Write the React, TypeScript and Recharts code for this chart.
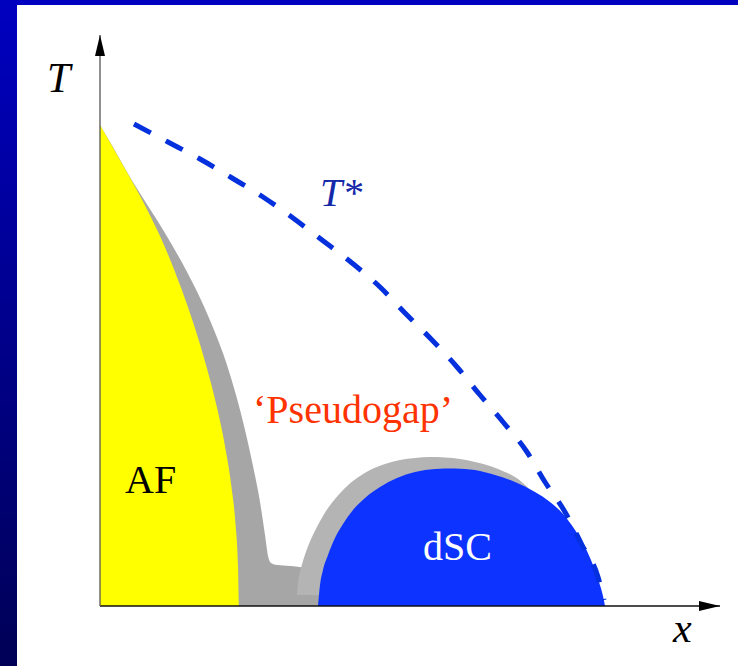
import React from 'react';
import {
  ComposedChart,
  Area,
  Line,
  XAxis,
  YAxis,
  ReferenceDot,
  ReferenceLine,
} from 'recharts';

// doping x and temperature T
const afX = [0, 0.0114, 0.0224, 0.032, 0.04, 0.047, 0.053, 0.0582, 0.0624, 0.0656, 0.0678, 0.069, 0.0694];
const afT = [481, 441, 401, 361, 321, 281, 241, 201, 161, 121, 81, 41, 0];

const pgX = [0, 0.0065, 0.0135, 0.0205, 0.0285, 0.036, 0.043, 0.0505, 0.057, 0.063, 0.068, 0.0725, 0.0765, 0.08, 0.0825, 0.084, 0.0855, 0.0885, 0.095, 0.1025, 0.109, 0.114, 0.117];
const pgT = [481, 459, 434, 411, 386, 361, 336, 306, 276, 244, 211, 176, 140, 104, 71, 50, 43, 41, 40, 38, 33, 24, 0];

const fluctX = [0.0985, 0.099, 0.1, 0.1015, 0.1035, 0.106, 0.109, 0.113, 0.1175, 0.1225, 0.1285, 0.135, 0.1425, 0.15, 0.1575, 0.165, 0.1725, 0.18, 0.1875, 0.195, 0.2025, 0.2075, 0.215, 0.2225, 0.2275, 0.23];
const fluctT = [11, 23, 34, 45, 57, 69, 81, 95, 107, 118, 128, 136, 142, 146, 148, 149, 148.5, 147, 144, 140, 134, 129, 116, 96, 66, 11];

const scX = [0.109, 0.11, 0.1115, 0.114, 0.1175, 0.1215, 0.1265, 0.1325, 0.14, 0.1485, 0.1575, 0.1675, 0.1775, 0.1875, 0.1975, 0.2075, 0.2175, 0.225, 0.2315, 0.2375, 0.2425, 0.2465, 0.2495, 0.2515, 0.2525];
const scT = [0, 21, 36, 51, 68, 82, 96, 108, 119, 128, 134, 137, 137.5, 136, 131, 124, 114, 104, 92, 76, 59, 41, 24, 10, 0];

const tStarX = [0.017, 0.034, 0.05, 0.066, 0.0815, 0.0965, 0.111, 0.126, 0.14, 0.1525, 0.166, 0.1785, 0.19, 0.2015, 0.2135, 0.2225, 0.2325, 0.241, 0.249, 0.252];
const tStarT = [482, 464, 447, 428, 409, 388, 366, 343, 319, 293, 266, 239, 211, 184, 154, 124, 94, 61, 29, 6];

const labels = [
  { text: 'T', x: -0.0265, T: 514, color: '#000', italic: true, size: 42 },
  { text: 'x', x: 0.2865, T: -36, color: '#000', italic: true, size: 42 },
  { text: 'AF', x: 0.0125, T: 113, color: '#000', italic: false, size: 40 },
  { text: '\u2018Pseudogap\u2019', x: 0.0765, T: 183, color: '#ff3300', italic: false, size: 40 },
  { text: 'T*', x: 0.11, T: 400, color: '#1428aa', italic: true, size: 40 },
  { text: 'dSC', x: 0.1615, T: 46, color: '#ffffff', italic: false, size: 40 },
];

const zip = (xs: number[], ts: number[]) => xs.map((x, i) => ({ x, T: ts[i] }));

const afData = zip(afX, afT);
const pgData = zip(pgX, pgT);
const fluctData = zip(fluctX, fluctT);
const scData = zip(scX, scT);
const tStarData = zip(tStarX, tStarT);

const SERIF = '"Liberation Serif", serif';

const App = () => {
  return (
    <div
      style={{
        position: 'absolute',
        left: 0,
        top: 0,
        width: 738,
        height: 666,
        background: 'linear-gradient(#0000c0, #000056)',
      }}
    >
      <div
        style={{
          position: 'absolute',
          left: 17,
          top: 5,
          width: 721,
          height: 661,
          background: '#fff',
        }}
      />
      <svg width={0} height={0} style={{ position: 'absolute' }}>
        <defs>
          <marker
            id="arrowHead"
            markerUnits="userSpaceOnUse"
            markerWidth={21}
            markerHeight={10}
            refX={21}
            refY={5}
            orient="auto"
          >
            <path d="M0,0 L21,5 L0,10 z" fill="#000" />
          </marker>
        </defs>
      </svg>
      <div style={{ position: 'absolute', left: 0, top: 0 }}>
        <ComposedChart
          width={738}
          height={666}
          margin={{ top: 35, right: 18, bottom: 60, left: 100 }}
        >
          <XAxis type="number" dataKey="x" domain={[0, 0.31]} allowDataOverflow hide />
          <YAxis type="number" dataKey="T" domain={[0, 571]} allowDataOverflow hide />
          <Area
            data={pgData}
            dataKey="T"
            type="monotone"
            fill="#a6a6a6"
            fillOpacity={1}
            stroke="none"
            dot={false}
            activeDot={false}
            isAnimationActive={false}
          />
          <Area
            data={afData}
            dataKey="T"
            type="monotone"
            fill="#ffff00"
            fillOpacity={1}
            stroke="none"
            dot={false}
            activeDot={false}
            isAnimationActive={false}
          />
          <Area
            data={fluctData}
            dataKey="T"
            type="monotone"
            baseValue={11}
            fill="#b4b4b4"
            fillOpacity={1}
            stroke="none"
            dot={false}
            activeDot={false}
            isAnimationActive={false}
          />
          <Area
            data={scData}
            dataKey="T"
            type="monotone"
            fill="#0c33ff"
            fillOpacity={1}
            stroke="none"
            dot={false}
            activeDot={false}
            isAnimationActive={false}
          />
          <Line
            data={tStarData}
            dataKey="T"
            type="monotone"
            stroke="#0430de"
            strokeWidth={5}
            strokeDasharray="19 17"
            dot={false}
            activeDot={false}
            isAnimationActive={false}
          />
          <ReferenceLine
            segment={[{ x: 0, y: 0 }, { x: 0.31, y: 0 }]}
            stroke="#111"
            strokeWidth={1.5}
            markerEnd="url(#arrowHead)"
            ifOverflow="visible"
          />
          <ReferenceLine
            segment={[{ x: 0, y: 0 }, { x: 0, y: 571 }]}
            stroke="#555"
            strokeWidth={1.3}
            markerEnd="url(#arrowHead)"
            ifOverflow="visible"
          />
          {labels.map((l) => (
            <ReferenceDot
              key={l.text}
              x={l.x}
              y={l.T}
              r={0}
              ifOverflow="visible"
              shape={(p: any) => (
                <text
                  x={p.cx}
                  y={p.cy}
                  fill={l.color}
                  style={{
                    fontSize: l.size,
                    fontFamily: SERIF,
                    fontStyle: l.italic ? 'italic' : 'normal',
                  }}
                  textAnchor="start"
                >
                  {l.text}
                </text>
              )}
            />
          ))}
        </ComposedChart>
      </div>
    </div>
  );
};

export default App;
